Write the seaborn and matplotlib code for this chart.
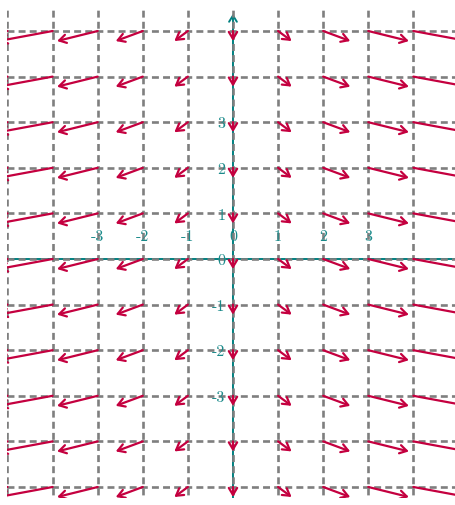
import seaborn as sns
import matplotlib.pyplot as plt
from matplotlib.patches import Rectangle

# grid points of the field
xs = [-5, -4, -3, -2, -1, 0, 1, 2, 3, 4, 5]
ys = [-5, -4, -3, -2, -1, 0, 1, 2, 3, 4, 5]
# arrow components (depend only on x)
u = [-1.5, -1.2, -0.9, -0.6, -0.3, 0.0, 0.3, 0.6, 0.9, 1.2, 1.5]
v = [-0.22, -0.22, -0.22, -0.22, -0.22, -0.22, -0.22, -0.22, -0.22, -0.22, -0.22]

xtick_vals = [-3, -2, -1, 0, 1, 2, 3]
xtick_labels = ['-3', '-2', '-1', '0', '1', '2', '3']
ytick_vals = [3, 2, 1, 0, -1, -2, -3]
ytick_labels = ['3', '2', '1', '0', '-1', '-2', '-3']
grid_x = [-5, -4, -3, -2, -1, 0, 1, 2, 3, 4, 5]
grid_y = [-5, -4, -3, -2, -1, 0, 1, 2, 3, 4, 5]

sns.set_style('white')
plt.rcParams['lines.scale_dashes'] = False

ARROW = '#c4003f'
TEAL = '#008080'
LABEL = '#1a8a8a'
GRAY = '#7f7f7f'

fig = plt.figure(figsize=(4.56, 5.05), dpi=100)
ax = fig.add_axes([0, 0, 1, 1])
ax.set_xlim(-5.166, 4.945)
ax.set_ylim(-5.395, 5.68)
ax.axis('off')

# everything is clipped to this window, like the original picture
clip = Rectangle((-5.0, -5.25), 10.3, 10.75, transform=ax.transData,
                 fill=False, visible=False)
ax.add_patch(clip)

# axes
xaxis = ax.hlines(0, -6, 6, color=TEAL, lw=1.4, zorder=1)
xaxis.set_clip_path(clip)
yaxis = ax.annotate('', xy=(0, 5.38), xytext=(0, -5.6),
                    arrowprops=dict(arrowstyle='->,head_length=0.45,head_width=0.28',
                                    color=TEAL, lw=1.4, shrinkA=0, shrinkB=0,
                                    mutation_scale=10),
                    annotation_clip=False, zorder=1)
yaxis.arrow_patch.set_clip_path(clip)

# dashed grid
vl = ax.vlines(grid_x, -6, 6, color=GRAY, lw=1.9, linestyles=[(0, (5, 3))], zorder=2)
hl = ax.hlines(grid_y, -5, 6, color=GRAY, lw=1.9, linestyles=[(0, (5, 3))], zorder=2)
vl.set_clip_path(clip)
hl.set_clip_path(clip)

# vector field
for i, x in enumerate(xs):
    for y in ys:
        a = ax.annotate('', xy=(x + u[i], y + v[i]), xytext=(x, y),
                        arrowprops=dict(arrowstyle='->,head_length=0.5,head_width=0.3',
                                        color=ARROW, lw=1.6, shrinkA=0, shrinkB=0,
                                        mutation_scale=10),
                        annotation_clip=False, zorder=3)
        a.arrow_patch.set_clip_path(clip)

# tick labels
for val, lab in zip(xtick_vals, xtick_labels):
    ax.text(val, 0.47, lab, ha='center', va='center', color=LABEL,
            fontsize=11.5, family='cmr10', zorder=4)
for val, lab in zip(ytick_vals, ytick_labels):
    ax.text(-0.17, val - 0.05, lab, ha='right', va='center', color=LABEL,
            fontsize=11.5, family='cmr10', zorder=4)

fig.savefig('out.png', dpi=100)
